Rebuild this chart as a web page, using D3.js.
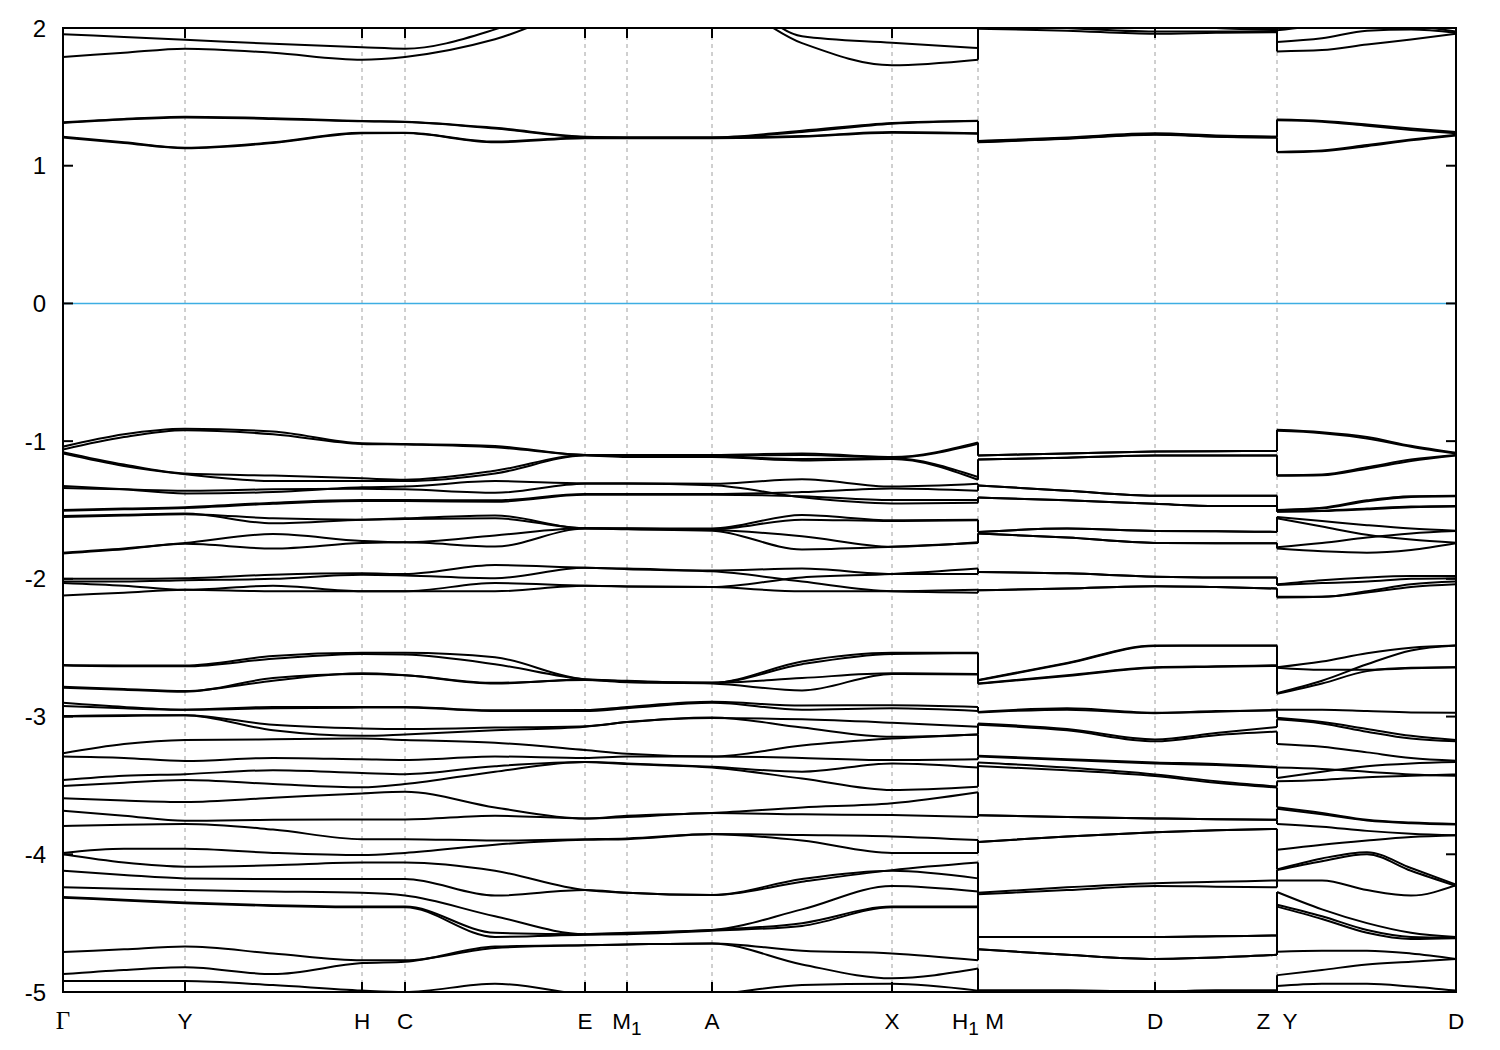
<!DOCTYPE html>
<html><head><meta charset="utf-8">
<script src="https://cdn.jsdelivr.net/npm/d3@7"></script>
<style>body{margin:0;background:#fff;} svg{display:block;} text{white-space:pre;}</style>
</head><body><svg id="chart" width="1500" height="1050"></svg>
<script>
// ---- high-symmetry path ----
const kTicks  = [0, 1.22, 2.99, 3.42, 5.22, 5.64, 6.49, 8.29, 9.15, 10.92, 12.14, 13.93];
const kLabels = ["Γ", "Y", "H", "C", "E", "M_1", "A", "X", "H_1 M", "D", "Z  Y", "D"];
const yTicks  = [2, 1, 0, -1, -2, -3, -4, -5];
const fermiLevel = 0;

// k sample points of each path segment
const kGammaToH1 = [0, 0.61, 1.22, 2.1, 2.99, 3.42, 4.32, 5.22, 5.64, 6.49, 7.39, 8.29, 9.15];
const kMtoZ      = [9.15, 10.04, 10.92, 11.53, 12.14];
const kYtoD      = [12.14, 12.59, 13.04, 13.48, 13.93];

// ---- band energies (eV) ----
const bandsGammaToH1 = [
  [2.3, 2.3, 2.3, 2.3, 2.3, 2.3, 2.4, 2.5, 2.5, 2.5, 2.4, 2.35, 2.3],
  [1.955, 1.935, 1.915, 1.885, 1.86, 1.85, 1.99, 2.25, 2.3, 2.3, 1.94, 1.893, 1.855],
  [1.79, 1.82, 1.85, 1.82, 1.77, 1.79, 1.918, 2.15, 2.2, 2.2, 1.89, 1.73, 1.77],
  [1.315, 1.34, 1.356, 1.345, 1.325, 1.32, 1.275, 1.21, 1.205, 1.205, 1.254, 1.31, 1.327],
  [1.31, 1.335, 1.35, 1.34, 1.322, 1.318, 1.27, 1.208, 1.203, 1.203, 1.245, 1.305, 1.325],
  [1.21, 1.17, 1.13, 1.17, 1.24, 1.24, 1.175, 1.205, 1.205, 1.205, 1.215, 1.245, 1.235],
  [1.205, 1.165, 1.127, 1.165, 1.235, 1.237, 1.17, 1.2, 1.2, 1.2, 1.21, 1.24, 1.232],
  [-1.04, -0.95, -0.91, -0.93, -1.016, -1.02, -1.035, -1.1, -1.1, -1.1, -1.09, -1.115, -1.01],
  [-1.06, -0.97, -0.92, -0.95, -1.02, -1.025, -1.045, -1.1, -1.105, -1.105, -1.1, -1.12, -1.02],
  [-1.08, -1.17, -1.235, -1.25, -1.27, -1.28, -1.215, -1.1, -1.11, -1.11, -1.13, -1.125, -1.26],
  [-1.09, -1.18, -1.24, -1.29, -1.29, -1.29, -1.235, -1.105, -1.115, -1.115, -1.14, -1.13, -1.28],
  [-1.325, -1.35, -1.38, -1.37, -1.335, -1.33, -1.29, -1.306, -1.306, -1.31, -1.277, -1.33, -1.31],
  [-1.34, -1.35, -1.36, -1.35, -1.345, -1.35, -1.375, -1.31, -1.31, -1.32, -1.408, -1.452, -1.447],
  [-1.5, -1.49, -1.48, -1.447, -1.428, -1.428, -1.43, -1.384, -1.384, -1.384, -1.37, -1.343, -1.36],
  [-1.505, -1.495, -1.485, -1.455, -1.435, -1.435, -1.44, -1.39, -1.39, -1.39, -1.4, -1.428, -1.428],
  [-1.544, -1.535, -1.525, -1.597, -1.57, -1.56, -1.54, -1.633, -1.633, -1.635, -1.537, -1.574, -1.57],
  [-1.55, -1.54, -1.53, -1.56, -1.57, -1.565, -1.56, -1.633, -1.635, -1.64, -1.57, -1.58, -1.575],
  [-1.81, -1.78, -1.74, -1.675, -1.725, -1.735, -1.685, -1.633, -1.638, -1.645, -1.69, -1.767, -1.735],
  [-1.815, -1.785, -1.745, -1.78, -1.74, -1.735, -1.765, -1.635, -1.64, -1.65, -1.786, -1.767, -1.74],
  [-2.0, -2.0, -1.995, -1.97, -1.96, -1.965, -1.9, -1.92, -1.925, -1.94, -1.925, -1.965, -1.965],
  [-2.02, -2.02, -2.01, -2.0, -1.97, -1.975, -1.995, -1.92, -1.93, -1.945, -2.02, -2.09, -2.1],
  [-2.03, -2.05, -2.08, -2.05, -2.09, -2.09, -2.03, -2.05, -2.055, -2.06, -1.99, -1.965, -1.925],
  [-2.12, -2.1, -2.08, -2.09, -2.09, -2.09, -2.09, -2.05, -2.055, -2.06, -2.09, -2.09, -2.08],
  [-2.626, -2.63, -2.63, -2.56, -2.537, -2.537, -2.57, -2.73, -2.74, -2.755, -2.6, -2.537, -2.537],
  [-2.63, -2.635, -2.635, -2.58, -2.545, -2.55, -2.62, -2.73, -2.745, -2.755, -2.62, -2.545, -2.54],
  [-2.783, -2.8, -2.815, -2.74, -2.686, -2.7, -2.76, -2.73, -2.745, -2.755, -2.72, -2.686, -2.69],
  [-2.79, -2.805, -2.82, -2.72, -2.69, -2.7, -2.755, -2.735, -2.75, -2.76, -2.81, -2.69, -2.695],
  [-2.9, -2.93, -2.95, -2.93, -2.93, -2.93, -2.955, -2.953, -2.93, -2.893, -2.92, -2.917, -2.93],
  [-2.924, -2.94, -2.95, -2.94, -2.935, -2.935, -2.96, -2.96, -2.94, -2.9, -2.95, -2.94, -2.96],
  [-2.996, -2.99, -2.99, -3.1, -3.14, -3.13, -3.1, -3.074, -3.04, -3.006, -3.08, -3.147, -3.13],
  [-3.0, -2.995, -2.99, -3.06, -3.086, -3.09, -3.08, -3.07, -3.04, -3.01, -3.02, -3.045, -3.074],
  [-3.267, -3.2, -3.17, -3.165, -3.16, -3.17, -3.19, -3.243, -3.27, -3.29, -3.21, -3.16, -3.13],
  [-3.29, -3.3, -3.323, -3.3, -3.31, -3.315, -3.29, -3.3, -3.29, -3.29, -3.3, -3.316, -3.31],
  [-3.461, -3.43, -3.418, -3.39, -3.41, -3.418, -3.36, -3.33, -3.34, -3.365, -3.4, -3.34, -3.37],
  [-3.505, -3.48, -3.461, -3.49, -3.514, -3.49, -3.4, -3.33, -3.345, -3.37, -3.45, -3.534, -3.51],
  [-3.594, -3.61, -3.62, -3.59, -3.558, -3.546, -3.66, -3.74, -3.72, -3.7, -3.66, -3.63, -3.55],
  [-3.684, -3.72, -3.757, -3.75, -3.747, -3.747, -3.72, -3.74, -3.73, -3.7, -3.71, -3.715, -3.73],
  [-3.795, -3.785, -3.78, -3.82, -3.89, -3.89, -3.9, -3.89, -3.885, -3.853, -3.86, -3.87, -3.897],
  [-3.99, -3.96, -3.96, -3.99, -4.006, -3.99, -3.93, -3.895, -3.89, -3.855, -3.9, -3.99, -3.99],
  [-4.0, -4.06, -4.09, -4.08, -4.06, -4.06, -4.12, -4.26, -4.28, -4.296, -4.2, -4.115, -4.06],
  [-4.12, -4.15, -4.175, -4.18, -4.18, -4.18, -4.3, -4.26, -4.28, -4.296, -4.18, -4.12, -4.175],
  [-4.24, -4.25, -4.26, -4.27, -4.28, -4.3, -4.45, -4.58, -4.57, -4.55, -4.4, -4.23, -4.27],
  [-4.31, -4.33, -4.35, -4.37, -4.38, -4.38, -4.57, -4.58, -4.575, -4.55, -4.5, -4.38, -4.38],
  [-4.315, -4.335, -4.355, -4.375, -4.385, -4.385, -4.6, -4.585, -4.58, -4.555, -4.52, -4.385, -4.385],
  [-4.71, -4.69, -4.67, -4.72, -4.77, -4.77, -4.68, -4.66, -4.655, -4.647, -4.8, -4.9, -4.83],
  [-4.87, -4.84, -4.82, -4.87, -4.79, -4.78, -4.67, -4.66, -4.655, -4.647, -4.7, -4.72, -4.77],
  [-4.92, -4.92, -4.92, -4.95, -4.99, -5.0, -4.94, -5.02, -5.05, -5.02, -4.95, -4.94, -4.99]
];

const bandsMtoZ = [
  [2.1, 2.06, 2.03, 2.0, 1.985],
  [2.04, 2.0, 1.975, 1.975, 1.975],
  [1.995, 1.98, 1.958, 1.965, 1.97],
  [1.18, 1.205, 1.235, 1.22, 1.21],
  [1.175, 1.2, 1.228, 1.215, 1.21],
  [1.17, 1.195, 1.225, 1.21, 1.205],
  [1.172, 1.198, 1.23, 1.212, 1.205],
  [-1.104, -1.09, -1.076, -1.073, -1.072],
  [-1.104, -1.09, -1.076, -1.073, -1.072],
  [-1.134, -1.12, -1.104, -1.104, -1.104],
  [-1.134, -1.12, -1.104, -1.104, -1.104],
  [-1.322, -1.36, -1.397, -1.397, -1.397],
  [-1.322, -1.36, -1.397, -1.397, -1.397],
  [-1.409, -1.43, -1.455, -1.471, -1.471],
  [-1.409, -1.43, -1.455, -1.471, -1.471],
  [-1.659, -1.635, -1.653, -1.655, -1.659],
  [-1.659, -1.635, -1.653, -1.655, -1.659],
  [-1.67, -1.7, -1.739, -1.741, -1.741],
  [-1.67, -1.7, -1.739, -1.741, -1.741],
  [-1.95, -1.96, -1.984, -1.99, -1.99],
  [-1.95, -1.96, -1.984, -1.99, -1.99],
  [-2.083, -2.07, -2.053, -2.06, -2.07],
  [-2.083, -2.07, -2.053, -2.06, -2.07],
  [-2.734, -2.61, -2.484, -2.484, -2.484],
  [-2.738, -2.615, -2.487, -2.486, -2.486],
  [-2.759, -2.7, -2.642, -2.635, -2.627],
  [-2.762, -2.705, -2.645, -2.638, -2.632],
  [-2.966, -2.94, -2.972, -2.965, -2.95],
  [-2.97, -2.95, -2.975, -2.96, -2.955],
  [-3.05, -3.09, -3.166, -3.12, -3.076],
  [-3.06, -3.1, -3.18, -3.135, -3.109],
  [-3.284, -3.31, -3.333, -3.345, -3.366],
  [-3.29, -3.315, -3.34, -3.352, -3.37],
  [-3.333, -3.37, -3.42, -3.47, -3.508],
  [-3.359, -3.39, -3.432, -3.48, -3.515],
  [-3.717, -3.73, -3.74, -3.745, -3.75],
  [-3.717, -3.73, -3.74, -3.745, -3.75],
  [-3.91, -3.87, -3.84, -3.825, -3.816],
  [-3.91, -3.87, -3.84, -3.825, -3.816],
  [-4.28, -4.24, -4.21, -4.2, -4.19],
  [-4.29, -4.26, -4.23, -4.235, -4.24],
  [-4.6, -4.6, -4.6, -4.595, -4.59],
  [-4.6, -4.6, -4.6, -4.595, -4.59],
  [-4.69, -4.73, -4.76, -4.75, -4.73],
  [-4.69, -4.73, -4.76, -4.75, -4.73],
  [-4.99, -4.99, -4.995, -4.99, -4.99],
  [-4.99, -4.99, -4.995, -4.99, -4.99]
];

const bandsYtoD = [
  [1.983, 2.02, 2.05, 2.02, 1.975],
  [1.898, 1.925, 1.98, 1.99, 1.966],
  [1.83, 1.84, 1.88, 1.916, 1.958],
  [1.335, 1.325, 1.3, 1.27, 1.245],
  [1.33, 1.32, 1.29, 1.26, 1.235],
  [1.097, 1.105, 1.142, 1.184, 1.22],
  [1.1, 1.11, 1.15, 1.19, 1.225],
  [-0.918, -0.935, -0.97, -1.034, -1.085],
  [-0.925, -0.942, -0.98, -1.04, -1.09],
  [-1.247, -1.242, -1.19, -1.134, -1.1],
  [-1.252, -1.248, -1.2, -1.145, -1.105],
  [-1.5, -1.484, -1.43, -1.4, -1.397],
  [-1.502, -1.488, -1.436, -1.405, -1.4],
  [-1.51, -1.505, -1.49, -1.475, -1.471],
  [-1.512, -1.508, -1.495, -1.48, -1.475],
  [-1.55, -1.58, -1.61, -1.635, -1.651],
  [-1.56, -1.62, -1.68, -1.715, -1.738],
  [-1.77, -1.74, -1.7, -1.67, -1.653],
  [-1.78, -1.8, -1.81, -1.79, -1.741],
  [-2.04, -2.01, -1.99, -1.98, -1.98],
  [-2.045, -2.03, -2.02, -2.0, -1.995],
  [-2.13, -2.13, -2.09, -2.04, -2.02],
  [-2.135, -2.13, -2.1, -2.06, -2.04],
  [-2.642, -2.6, -2.54, -2.5, -2.484],
  [-2.645, -2.66, -2.66, -2.65, -2.642],
  [-2.834, -2.76, -2.67, -2.645, -2.642],
  [-2.83, -2.74, -2.62, -2.52, -2.484],
  [-2.95, -2.95, -2.96, -2.97, -2.972],
  [-3.009, -3.04, -3.09, -3.14, -3.171],
  [-3.02, -3.05, -3.11, -3.16, -3.18],
  [-3.2, -3.22, -3.26, -3.3, -3.32],
  [-3.37, -3.38, -3.4, -3.42, -3.43],
  [-3.446, -3.4, -3.36, -3.34, -3.33],
  [-3.47, -3.46, -3.44, -3.43, -3.42],
  [-3.659, -3.7, -3.75, -3.77, -3.78],
  [-3.67, -3.71, -3.755, -3.775, -3.784],
  [-3.78, -3.8, -3.83, -3.85, -3.862],
  [-3.967, -3.93, -3.9, -3.875, -3.862],
  [-4.11, -4.03, -3.985, -4.1, -4.22],
  [-4.115, -4.05, -4.0, -4.12, -4.23],
  [-4.19, -4.19, -4.26, -4.3, -4.225],
  [-4.274, -4.4, -4.5, -4.57, -4.6],
  [-4.366, -4.45, -4.55, -4.6, -4.605],
  [-4.38, -4.47, -4.57, -4.615, -4.61],
  [-4.708, -4.7, -4.7, -4.72, -4.76],
  [-4.878, -4.84, -4.8, -4.78, -4.76],
  [-4.957, -4.94, -4.94, -4.96, -4.99]
];

// ---- drawing ----
const svg = d3.select("#chart");
const X0 = 63, X1 = 1456, Y0 = 28, Y1 = 992;
const x = d3.scaleLinear().domain([kTicks[0], kTicks[kTicks.length - 1]]).range([X0, X1]);
const y = d3.scaleLinear().domain([-5, 2]).range([Y1, Y0]);

svg.append("rect").attr("width", 1500).attr("height", 1050).attr("fill", "#fff");
svg.append("defs").append("clipPath").attr("id", "plotclip")
  .append("rect").attr("x", X0).attr("y", Y0).attr("width", X1 - X0).attr("height", Y1 - Y0);

// grid (dashed verticals at interior high-symmetry points)
svg.append("g").selectAll("line").data(kTicks.slice(1, -1)).join("line")
  .attr("x1", d => x(d)).attr("x2", d => x(d)).attr("y1", Y0).attr("y2", Y1)
  .attr("stroke", "#a0a0a0").attr("stroke-width", 1).attr("stroke-dasharray", "4,4");

// Fermi level
svg.append("line").attr("x1", X0).attr("x2", X1).attr("y1", y(fermiLevel)).attr("y2", y(fermiLevel))
  .attr("stroke", "#3daee3").attr("stroke-width", 1.6);

const gb = svg.append("g").attr("clip-path", "url(#plotclip)")
  .attr("fill", "none").attr("stroke", "#000").attr("stroke-width", 2).attr("stroke-linejoin", "round");
const line = d3.line().x(d => x(d[0])).y(d => y(d[1])).curve(d3.curveMonotoneX);
const segments = [
  { k: kGammaToH1, bands: bandsGammaToH1 },
  { k: kMtoZ, bands: bandsMtoZ },
  { k: kYtoD, bands: bandsYtoD }
];
segments.forEach(seg => {
  seg.bands.forEach(b => {
    gb.append("path").attr("d", line(b.map((v, i) => [seg.k[i], v])));
  });
});
// vertical jumps at path discontinuities (bands joined in energy order)
for (let s = 0; s < segments.length - 1; s++) {
  const left = segments[s].bands.map(b => b[b.length - 1]).sort((a, b) => a - b);
  const right = segments[s + 1].bands.map(b => b[0]).sort((a, b) => a - b);
  const kx = segments[s + 1].k[0];
  const n = Math.min(left.length, right.length);
  for (let i = 0; i < n; i++) {
    gb.append("line").attr("x1", x(kx)).attr("x2", x(kx))
      .attr("y1", y(left[i])).attr("y2", y(right[i]));
  }
}

// frame
svg.append("rect").attr("x", X0).attr("y", Y0).attr("width", X1 - X0).attr("height", Y1 - Y0)
  .attr("fill", "none").attr("stroke", "#000").attr("stroke-width", 2);

// ticks
const tk = svg.append("g").attr("stroke", "#000").attr("stroke-width", 2);
yTicks.forEach(v => {
  tk.append("line").attr("x1", X0).attr("x2", X0 + 10).attr("y1", y(v)).attr("y2", y(v));
  tk.append("line").attr("x1", X1 - 10).attr("x2", X1).attr("y1", y(v)).attr("y2", y(v));
});
kTicks.forEach(k => {
  tk.append("line").attr("x1", x(k)).attr("x2", x(k)).attr("y1", Y1).attr("y2", Y1 - 10);
  tk.append("line").attr("x1", x(k)).attr("x2", x(k)).attr("y1", Y0).attr("y2", Y0 + 10);
});

// y labels
svg.append("g").selectAll("text").data(yTicks).join("text")
  .attr("x", 46).attr("y", d => y(d) + 8.5)
  .attr("text-anchor", "end").attr("font-family", "Liberation Sans, Arial, sans-serif")
  .attr("font-size", 24).attr("fill", "#000").text(d => d);

// k labels (with subscripts written as _1)
kLabels.forEach((lab, i) => {
  const t = svg.append("text").attr("x", x(kTicks[i])).attr("y", 1029)
    .attr("text-anchor", "middle").attr("fill", "#000")
    .attr("font-family", lab === "Γ" ? "Liberation Serif, serif" : "Liberation Sans, Arial, sans-serif")
    .attr("font-size", lab === "Γ" ? 25 : 22.5);
  const parts = lab.split(/(_\d)/).filter(p => p.length);
  let shifted = false;
  parts.forEach(p => {
    if (p.startsWith("_")) {
      t.append("tspan").attr("dy", 6).attr("font-size", 19).text(p.slice(1));
      shifted = true;
    } else {
      const ts = t.append("tspan").text(p);
      if (shifted) { ts.attr("dy", -6); shifted = false; }
    }
  });
});
</script>
</body></html>
